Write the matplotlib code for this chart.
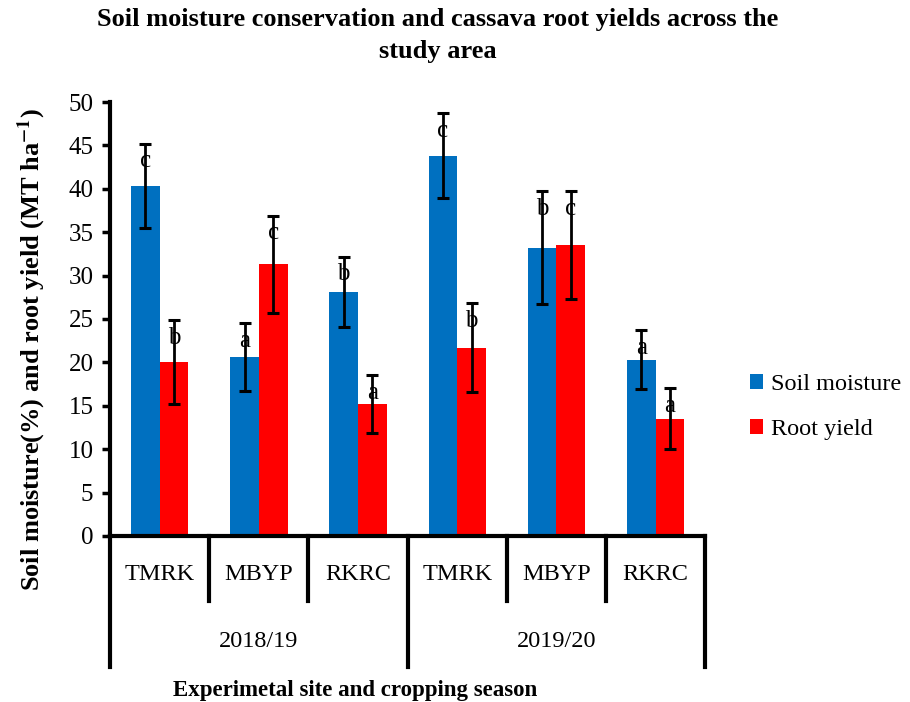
#%% -- imports --
import numpy as np
import matplotlib.pyplot as plt

#%% -- data --
sites = ['TMRK', 'MBYP', 'RKRC', 'TMRK', 'MBYP', 'RKRC']
seasons = ['2018/19', '2019/20']
soil_moisture = [40.3, 20.6, 28.1, 43.8, 33.2, 20.3]
soil_err = [4.85, 3.9, 4.05, 4.9, 6.5, 3.4]
soil_letters = ['c', 'a', 'b', 'c', 'b', 'a']
root_yield = [20.0, 31.3, 15.2, 21.7, 33.5, 13.5]
root_err = [4.85, 5.6, 3.3, 5.1, 6.2, 3.5]
root_letters = ['b', 'c', 'a', 'b', 'c', 'a']

blue = '#0070C0'
red = '#FF0000'

plt.rcParams['font.family'] = ['Liberation Serif', 'DejaVu Serif']
plt.rcParams['mathtext.fontset'] = 'stix'

#%% -- plot --
fig = plt.figure(figsize=(9.1, 7.02), dpi=100)
ax = fig.add_axes([0.121, 0.2365, 0.654, 0.6182])

x = np.arange(len(sites))
w = 0.29
ekw = dict(ecolor='black', elinewidth=2, capsize=4.5, capthick=2.2)
ax.bar(x - w/2, soil_moisture, w, color=blue, label='Soil moisture',
       yerr=soil_err, error_kw=ekw)
ax.bar(x + w/2, root_yield, w, color=red, label='Root yield',
       yerr=root_err, error_kw=ekw)

# significance letters
for xi, v, e, l in zip(x - w/2, soil_moisture, soil_err, soil_letters):
    ax.text(xi, v + e - 2.0, l, ha='center', va='center', fontsize=18)
for xi, v, e, l in zip(x + w/2, root_yield, root_err, root_letters):
    ax.text(xi, v + e - 2.0, l, ha='center', va='center', fontsize=18)

ax.set_xlim(-0.5, 5.5)
ax.set_ylim(0, 50)
ax.set_yticks(np.arange(0, 51, 5))
ax.tick_params(axis='y', labelsize=18, width=2.5, length=6, direction='out', pad=6)
ax.set_xticks([])
for s in ['top', 'right']:
    ax.spines[s].set_visible(False)
ax.spines['left'].set_linewidth(3)
ax.spines['bottom'].set_linewidth(3)

# grouped category axis below
tr = ax.get_xaxis_transform()
for b in [0.5, 1.5, 3.5, 4.5]:
    ax.plot([b, b], [0, -0.15], color='black', lw=3, transform=tr, clip_on=False)
for b in [-0.5, 2.5, 5.5]:
    ax.plot([b, b], [0, -0.302], color='black', lw=3, transform=tr, clip_on=False)
for xi, s in zip(x, sites):
    ax.text(xi, -0.088, s, transform=tr, ha='center', va='center', fontsize=17.5)
for i, s in enumerate(seasons):
    ax.text(1 + 3*i, -0.243, s, transform=tr, ha='center', va='center', fontsize=17.5)

ax.set_ylabel('Soil moisture(%) and root yield (MT ha$^{\\mathbf{-1}}$)',
              fontsize=19, fontweight='bold')
ax.yaxis.set_label_coords(-0.105, 0.43)
fig.text(0.39, 0.017, 'Experimetal site and cropping season', ha='center',
         va='center', fontsize=16.5, fontweight='bold')
fig.suptitle('Soil moisture conservation and cassava root yields across the\nstudy area',
             x=0.481, y=0.988, fontsize=19, fontweight='bold', linespacing=1.45)

fig.legend(loc='center left', bbox_to_anchor=(0.8, 0.42), frameon=False,
           fontsize=17.5, handlelength=0.55, handleheight=0.55, handletextpad=0.3,
           labelspacing=1.0)

plt.savefig('out.png', dpi=100)
